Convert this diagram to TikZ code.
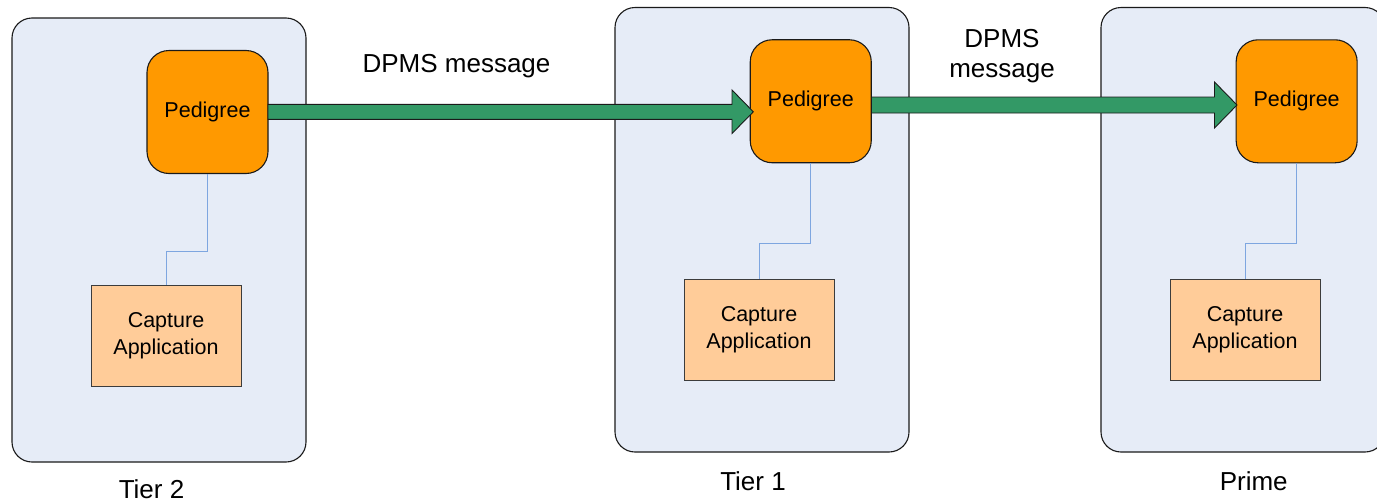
\documentclass[tikz,border=0pt]{standalone}
\usepackage{fontspec}
\setmainfont{Liberation Sans}
\definecolor{tierfill}{RGB}{230,236,247}
\definecolor{pedfill}{RGB}{255,153,0}
\definecolor{capfill}{RGB}{255,204,153}
\definecolor{arrowfill}{RGB}{51,153,102}
\definecolor{linkcol}{RGB}{126,166,224}
\definecolor{edgecol}{RGB}{26,26,26}
\begin{document}
\begin{tikzpicture}[x=1pt,y=-1pt,
  tier/.style={draw=edgecol, line width=1.1pt, fill=tierfill, rounded corners=20pt, inner sep=0pt},
  pedigree/.style={draw=edgecol, line width=1.1pt, fill=pedfill, rounded corners=22pt, inner sep=0pt,
     minimum width=121pt, minimum height=123pt, font=\fontsize{21.5}{25}\selectfont},
  capture/.style={draw=edgecol!85, line width=1pt, fill=capfill, inner sep=0pt, align=center,
     minimum width=150pt, minimum height=101pt, font=\fontsize{21.5}{26.7}\selectfont},
  link/.style={draw=linkcol, line width=1pt},
  garrow/.style={draw=edgecol, line width=0.9pt, fill=arrowfill, line join=miter},
  lbl/.style={font=\fontsize{26}{30}\selectfont, inner sep=0pt, align=center}
]
\useasboundingbox (0,0) rectangle (1377,501);
\clip (0,0) rectangle (1377,501);

% tier boxes
\node[tier, minimum width=294pt, minimum height=444pt] (t2) at (159,240) {};
\node[tier, minimum width=294pt, minimum height=444.5pt] (t1) at (762,229.75) {};
\node[tier, minimum width=284pt, minimum height=444.5pt] (tp) at (1243,229.75) {};

% pedigree nodes
\node[pedigree] (p1) at (207.5,112) {Pedigree};
\node[pedigree] (p2) at (810.75,101.25) {Pedigree};
\node[pedigree] (p3) at (1296.65,101.3) {Pedigree};

% capture applications
\node[capture] (c1) at (166,335.5) {Capture\\Application};
\node[capture] (c2) at (759,329.5) {Capture\\Application};
\node[capture] (c3) at (1245,329.5) {Capture\\Application};

% links
\draw[link] (p1.south) -- ++(0,77) -| (c1.north);
\draw[link] (p2.south) -- ++(0,80) -| (c2.north);
\draw[link] (p3.south) -- ++(0,79.7) -| (c3.north);

% DPMS arrows
\draw[garrow] (268,104.3) -- (732,104.3) -- (732,90) -- (753.3,111.8) -- (732,133.5) -- (732,119.3) -- (268,119.3) -- cycle;
\draw[garrow] (871.5,97) -- (1214.5,97) -- (1214.5,82) -- (1237,105) -- (1214.5,128) -- (1214.5,113) -- (871.5,113) -- cycle;

% labels
\node[lbl, anchor=base] (m1) at (456.5,72) {DPMS message};
\node[lbl] (m2) at (1002,56.6) {DPMS\\message};
\node[lbl, anchor=base] (l2) at (151.5,498) {Tier 2};
\node[lbl, anchor=base] (l1) at (753,490) {Tier 1};
\node[lbl, anchor=base] (lp) at (1253.7,490) {Prime};
\end{tikzpicture}
\end{document}
